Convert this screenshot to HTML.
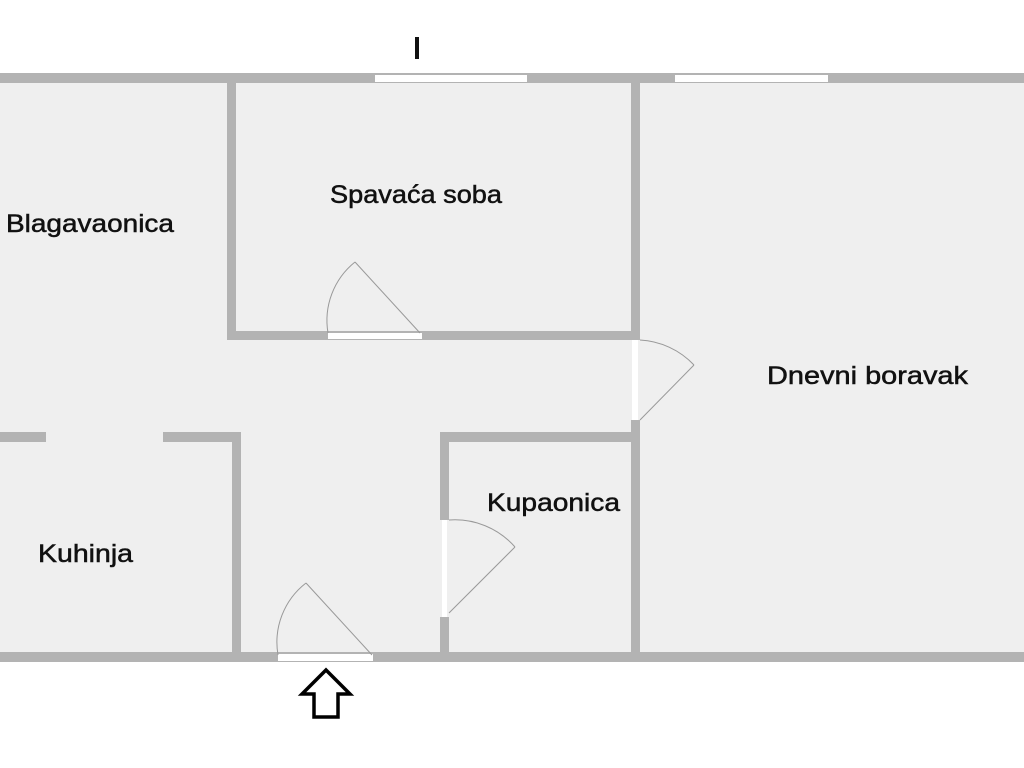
<!DOCTYPE html>
<html><head><meta charset="utf-8"><style>
html,body{margin:0;padding:0;background:#fff;}
svg{display:block}
text{font-family:"Liberation Sans",sans-serif;fill:#111;}
</style></head><body>
<svg width="1024" height="768" viewBox="0 0 1024 768" xmlns="http://www.w3.org/2000/svg">
<rect x="0" y="0" width="1024" height="768" fill="#fff"/>
<rect x="0" y="78" width="1024" height="579" fill="#efefef"/>
<g fill="#b3b3b3">
<rect x="0" y="73" width="1024" height="10"/>
<rect x="0" y="652" width="1024" height="10"/>
<rect x="227" y="78" width="9" height="262"/>
<rect x="227" y="331" width="413" height="9"/>
<rect x="631" y="78" width="9" height="262"/>
<rect x="631" y="420" width="9" height="240"/>
<rect x="0" y="432" width="46" height="10"/>
<rect x="163" y="432" width="78" height="10"/>
<rect x="232" y="432" width="9" height="228"/>
<rect x="440" y="432" width="200" height="10"/>
<rect x="440" y="432" width="9" height="88"/>
<rect x="440" y="617" width="9" height="42"/>
</g>
<g fill="#fff">
<rect x="375" y="75" width="152" height="7"/>
<rect x="675" y="75" width="153" height="7"/>
<rect x="328" y="333" width="94" height="6"/>
<rect x="278" y="654" width="95" height="7"/>
<rect x="632" y="340" width="6" height="80"/>
<rect x="442" y="520" width="5" height="97"/>
</g>
<g fill="none" stroke="#999" stroke-width="1">
<path d="M328 333 A75 75 0 0 1 355 262"/>
<line x1="355" y1="262" x2="420" y2="333"/>
<path d="M278 655 A75 75 0 0 1 306 583"/>
<line x1="306" y1="583" x2="372" y2="655"/>
<path d="M640 340 A80 80 0 0 1 694 365"/>
<line x1="694" y1="365" x2="640" y2="420"/>
<path d="M449 520 A80 80 0 0 1 515 547"/>
<line x1="515" y1="547" x2="449" y2="613"/>
</g>
<g font-size="25" stroke="#111" stroke-width="0.5">
<text x="330" y="203" textLength="172" lengthAdjust="spacingAndGlyphs">Spavaća soba</text>
<text x="6" y="232" textLength="168" lengthAdjust="spacingAndGlyphs">Blagavaonica</text>
<text x="767" y="384" textLength="201" lengthAdjust="spacingAndGlyphs">Dnevni boravak</text>
<text x="487" y="511" textLength="133" lengthAdjust="spacingAndGlyphs">Kupaonica</text>
<text x="38" y="562" textLength="95" lengthAdjust="spacingAndGlyphs">Kuhinja</text>
</g>
<rect x="415" y="37" width="4" height="22" fill="#111"/>
<path d="M326 670 L350 694 L338 694 L338 717 L314 717 L314 694 L302 694 Z" fill="#fff" stroke="#000" stroke-width="3.5" stroke-linejoin="miter"/>
</svg>
</body></html>
